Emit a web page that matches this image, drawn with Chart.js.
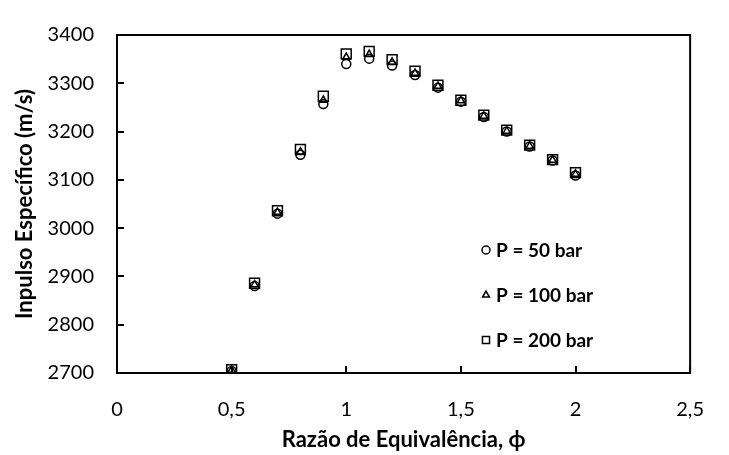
<!doctype html>
<html lang="pt-br">
<head>
<meta charset="UTF-8">
<script src="https://cdn.jsdelivr.net/npm/chart.js"></script>
<style>
  html, body { margin: 0; padding: 0; background: #fff; }
  #wrap { width: 729px; height: 455px; position: relative; }
</style>
</head>
<body>
<div id="wrap"><canvas id="c"></canvas></div>
<script>
// dados
const phi = [0.5, 0.6, 0.7, 0.8, 0.9, 1.0, 1.1, 1.2, 1.3, 1.4, 1.5, 1.6, 1.7, 1.8, 1.9, 2.0];
const p50 = [2704, 2880, 3030, 3152, 3257, 3340, 3351, 3337, 3317, 3291, 3262, 3230, 3200, 3169, 3140, 3109];
const p100 = [2706, 2883, 3033, 3158, 3265, 3354, 3360, 3344, 3321, 3294, 3264, 3232, 3201, 3170, 3141, 3112];
const p200 = [2707, 2886, 3036, 3163, 3273, 3361, 3366, 3349, 3325, 3296, 3265, 3234, 3203, 3172, 3142, 3115];
const seriesNames = ["P = 50 bar", "P = 100 bar", "P = 200 bar"];
const xTicks = [0, 0.5, 1, 1.5, 2, 2.5];
const yTicks = [2700, 2800, 2900, 3000, 3100, 3200, 3300, 3400];

const FONT = "Lato, 'Open Sans', sans-serif";
const pts = (ys) => phi.map((x, i) => ({ x, y: ys[i] }));

const styles = [
  { pointStyle: "circle", radius: 4.5 },
  { pointStyle: "triangle", radius: 4.2 },
  { pointStyle: "rect", radius: 7 }
];

// moldura + marcas internas dos eixos
const frame = {
  id: "frame",
  afterDraw(chart) {
    const { ctx, chartArea: a, scales } = chart;
    ctx.save();
    ctx.strokeStyle = "#000";
    ctx.lineWidth = 2;
    ctx.strokeRect(a.left, a.top, a.right - a.left, a.bottom - a.top);
    ctx.beginPath();
    yTicks.forEach((v) => {
      const y = Math.round(scales.y.getPixelForValue(v));
      ctx.moveTo(a.left, y); ctx.lineTo(a.left + 7, y);
    });
    xTicks.forEach((v) => {
      const x = Math.round(scales.x.getPixelForValue(v));
      ctx.moveTo(x, a.bottom); ctx.lineTo(x, a.bottom - 7);
    });
    ctx.stroke();
    ctx.restore();
  }
};

// legenda dentro da área do gráfico
const insideLegend = {
  id: "insideLegend",
  afterDraw(chart) {
    const { ctx } = chart;
    ctx.save();
    ctx.font = "bold 19px " + FONT;
    ctx.textBaseline = "middle";
    seriesNames.forEach((name, i) => {
      const y = 250 + i * 45;
      const st = styles[i];
      ctx.strokeStyle = "#000";
      ctx.fillStyle = "rgba(0,0,0,0)";
      ctx.lineWidth = 1.5;
      Chart.helpers.drawPoint(ctx, { pointStyle: st.pointStyle, radius: i === 2 ? 5 : 4, rotation: 0, borderWidth: 1.5 }, 486, y);
      ctx.fillStyle = "#000";
      ctx.fillText(name, 496, y + 1);
    });
    ctx.restore();
  }
};

new Chart(document.getElementById("c").getContext("2d"), {
  type: "scatter",
  data: {
    datasets: [p50, p100, p200].map((ys, i) => ({
      label: seriesNames[i],
      data: pts(ys),
      pointStyle: styles[i].pointStyle,
      pointRadius: styles[i].radius,
      pointBorderColor: "#000",
      pointBackgroundColor: "rgba(0,0,0,0)",
      pointBorderWidth: 1.5,
      showLine: false
    }))
  },
  options: {
    responsive: true,
    maintainAspectRatio: false,
    animation: false,
    events: [],
    layout: { padding: { top: 20, right: 15, bottom: 0, left: 0 } },
    plugins: { legend: { display: false }, tooltip: { enabled: false } },
    scales: {
      x: {
        type: "linear",
        min: 0, max: 2.5,
        afterBuildTicks: (s) => { s.ticks = xTicks.map((v) => ({ value: v })); },
        afterFit: (s) => { s.height = 82; },
        grid: { display: false, drawTicks: false },
        border: { display: false },
        ticks: {
          color: "#000", padding: 25,
          font: { family: FONT, size: 20 },
          callback: (v) => String(v).replace(".", ",")
        },
        title: {
          display: true, text: "Razão de Equivalência, ϕ", color: "#000",
          font: { family: FONT, size: 22, weight: "bold" },
          padding: { top: 0, bottom: 2 }
        }
      },
      y: {
        type: "linear",
        min: 2700, max: 3400,
        afterBuildTicks: (s) => { s.ticks = yTicks.map((v) => ({ value: v })); },
        afterFit: (s) => { s.width = 117; },
        grid: { display: false, drawTicks: false },
        border: { display: false },
        ticks: {
          color: "#000", padding: 23,
          font: { family: FONT, size: 20 },
          callback: (v) => String(v)
        },
        title: {
          display: true, text: "Inpulso Específico (m/s)", color: "#000",
          font: { family: FONT, size: 22, weight: "bold" },
          padding: { top: 12, bottom: 0 }
        }
      }
    }
  },
  plugins: [frame, insideLegend]
});
</script>
</body>
</html>
